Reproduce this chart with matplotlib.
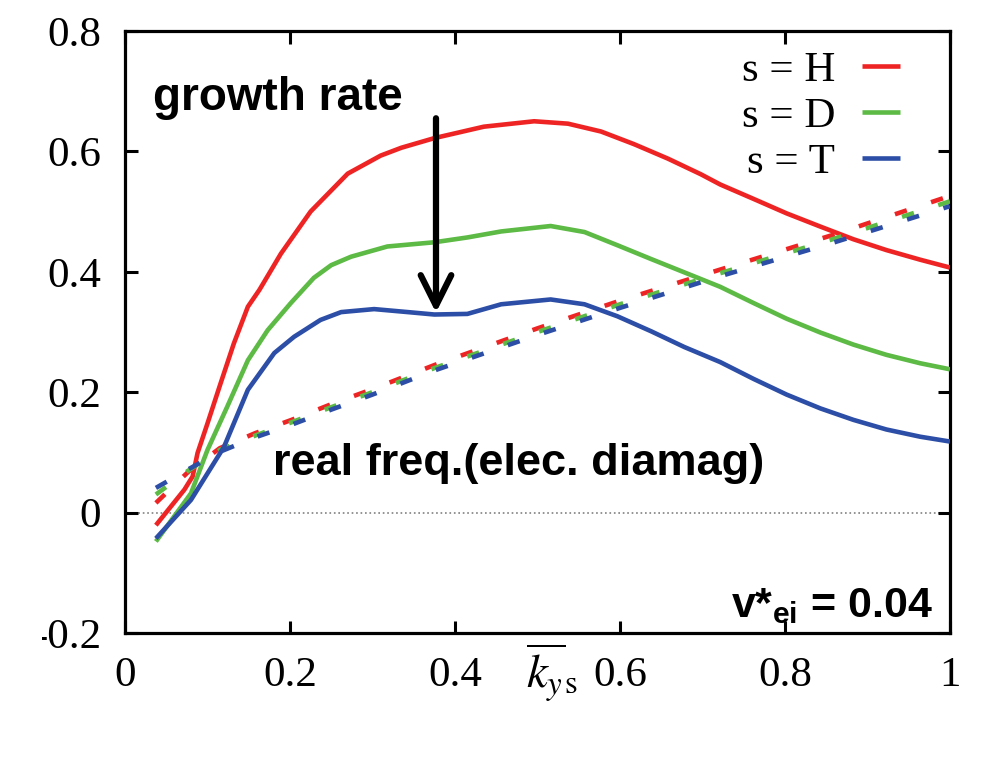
import matplotlib
matplotlib.use('Agg')
import matplotlib.pyplot as plt
from matplotlib.transforms import Bbox, TransformedBbox

plt.rcParams['lines.scale_dashes'] = False
plt.rcParams['axes.unicode_minus'] = False
plt.rcParams['mathtext.bf'] = 'Liberation Sans:bold'
plt.rcParams['mathtext.rm'] = 'Liberation Sans'
plt.rcParams['mathtext.it'] = 'Liberation Sans:italic'

# ---------------- data ----------------
species = ['s = H', 's = D', 's = T']
colors = ['#ee2424', '#5cba45', '#2d4ea6']

# growth rates (solid)
gx_H = [0.0375, 0.072, 0.082, 0.088, 0.100, 0.116, 0.132, 0.149, 0.163, 0.189, 0.225, 0.27,
        0.31, 0.335, 0.375, 0.435, 0.496, 0.537, 0.577, 0.617, 0.658, 0.698, 0.7215, 0.762,
        0.802, 0.843, 0.883, 0.923, 0.964, 1.0]
gy_H = [-0.021, 0.038, 0.06, 0.099, 0.148, 0.215, 0.281, 0.342, 0.37, 0.43, 0.50, 0.563,
        0.593, 0.606, 0.622, 0.641, 0.650, 0.646, 0.633, 0.612, 0.588, 0.562, 0.545, 0.521,
        0.497, 0.475, 0.454, 0.436, 0.420, 0.407]

gx_D = [0.0375, 0.080, 0.100, 0.124, 0.149, 0.173, 0.201, 0.229, 0.25, 0.274, 0.318, 0.375,
        0.415, 0.456, 0.516, 0.557, 0.597, 0.638, 0.678, 0.7215, 0.762, 0.802, 0.843, 0.883,
        0.923, 0.964, 1.0]
gy_D = [-0.048, 0.032, 0.104, 0.176, 0.253, 0.303, 0.348, 0.390, 0.411, 0.425, 0.442, 0.449,
        0.457, 0.467, 0.476, 0.466, 0.444, 0.421, 0.399, 0.375, 0.348, 0.322, 0.299, 0.279,
        0.262, 0.248, 0.238]

gx_T = [0.0375, 0.080, 0.120, 0.149, 0.181, 0.205, 0.237, 0.262, 0.302, 0.343, 0.375, 0.415,
        0.456, 0.516, 0.557, 0.597, 0.638, 0.678, 0.7215, 0.762, 0.802, 0.843, 0.883, 0.923,
        0.964, 1.0]
gy_T = [-0.043, 0.021, 0.109, 0.204, 0.265, 0.292, 0.32, 0.333, 0.338, 0.333, 0.329, 0.33,
        0.346, 0.354, 0.346, 0.326, 0.301, 0.275, 0.250, 0.222, 0.196, 0.173, 0.154, 0.138,
        0.126, 0.118]

# real frequencies (dashed)
fx = [0.0375, 0.077, 0.115, 0.158, 0.202, 0.25, 0.3, 0.375, 0.5, 0.6, 0.72, 0.86, 1.0]
fy_H = [0.016, 0.068, 0.107, 0.132, 0.154, 0.180, 0.205, 0.245, 0.306, 0.352, 0.403, 0.462, 0.526]
fy_D = [0.030, 0.070, 0.104, 0.128, 0.150, 0.175, 0.200, 0.240, 0.300, 0.346, 0.397, 0.455, 0.517]
fy_T = [0.041, 0.072, 0.101, 0.125, 0.146, 0.171, 0.196, 0.236, 0.295, 0.340, 0.392, 0.449, 0.509]

xticks = [0, 0.2, 0.4, 0.6, 0.8, 1.0]
xticklabels = ['0', '0.2', '0.4', '0.6', '0.8', '1']
yticks = [-0.2, 0, 0.2, 0.4, 0.6, 0.8]
yticklabels = ['-0.2', '0', '0.2', '0.4', '0.6', '0.8']

growth = [(gx_H, gy_H), (gx_D, gy_D), (gx_T, gy_T)]
freq = [fy_H, fy_D, fy_T]

# ---------------- figure ----------------
fig = plt.figure(figsize=(9.91, 7.76), dpi=100)
ax = fig.add_axes([0.1261, 0.1843, 0.8325, 0.7758])
ax.set_xlim(0, 1)
ax.set_ylim(-0.2, 0.8)

ax.axhline(0, color='#808080', lw=1.2, ls=(0, (1.2, 2.0)), zorder=1)

handles = []
for (gx, gy), fyv, c, lab in zip(growth, freq, colors, species):
    h, = ax.plot(gx, gy, color=c, lw=3.3, solid_capstyle='butt', solid_joinstyle='round',
                 label=lab, zorder=3)
    ax.plot(fx, fyv, color=c, lw=3.3, ls=(0, (9.0, 18.4)), dash_capstyle='butt', zorder=3)
    handles.append(h)

serif = 'Liberation Serif'
ax.set_xticks(xticks)
ax.set_xticklabels(xticklabels, fontfamily=serif, fontsize=31)
ax.set_yticks(yticks)
ax.set_yticklabels(yticklabels, fontfamily=serif, fontsize=31)
ax.tick_params(direction='in', length=9, width=2.2, top=True, right=True)
ax.tick_params(axis='x', pad=17)
ax.tick_params(axis='y', pad=17)
for sp in ax.spines.values():
    sp.set_linewidth(2.3)

ax.set_xlabel(r'$\overline{k_{y}}_{\mathrm{s}}$', math_fontfamily='stix', fontsize=34,
              va='center')
ax.xaxis.set_label_coords(0.518, -0.066)

leg = ax.legend(handles=handles, labels=species, loc='upper right',
                bbox_to_anchor=(0.9395, 0.967), borderaxespad=0, borderpad=0,
                frameon=False, markerfirst=False, handlelength=0.88, handletextpad=0.63,
                labelspacing=0.16, prop={'family': serif, 'size': 31})

ax.text(0.034, 0.869, 'growth rate', transform=ax.transAxes, fontfamily='Liberation Sans',
        fontweight='bold', fontsize=33, ha='left', va='baseline')
ax.text(0.180, 0.262, 'real freq.(elec. diamag)', transform=ax.transAxes,
        fontfamily='Liberation Sans', fontweight='bold', fontsize=32.5, ha='left', va='baseline')
ax.text(0.979, 0.027, r'v*$_{\mathbf{ei}}$ = 0.04', transform=ax.transAxes,
        fontfamily='Liberation Sans', fontweight='bold', fontsize=31, ha='right',
        va='baseline', math_fontfamily='custom')

ax.annotate('', xy=(0.377, 0.332), xytext=(0.377, 0.655),
            arrowprops=dict(arrowstyle='->, head_length=1.1, head_width=0.55',
                            lw=4.5, color='black', mutation_scale=20,
                            shrinkA=0, shrinkB=0))

# the reference image is cropped at its left edge, cutting off the minus sign
fig.canvas.draw()
for lab in ax.get_yticklabels():
    if lab.get_text() == '-0.2':
        lab.set_clip_box(TransformedBbox(Bbox([[42 / 991, 0], [1, 1]]), fig.transFigure))
        lab.set_clip_on(True)

fig.savefig('out.png', dpi=100)
